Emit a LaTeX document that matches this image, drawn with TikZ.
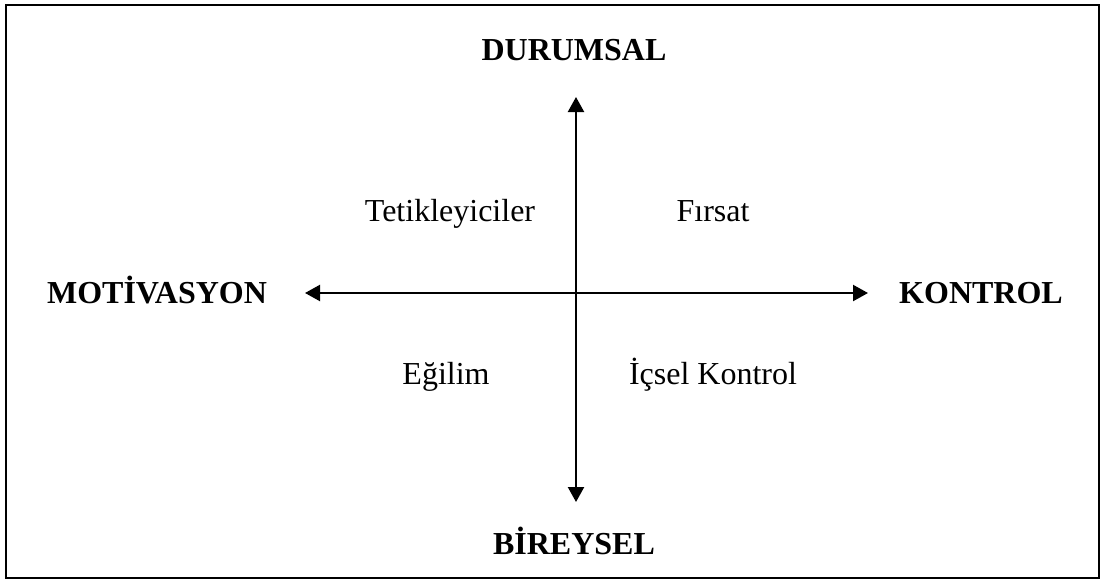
\documentclass[tikz,border=0pt]{standalone}
\usepackage{fontspec}
\setmainfont{Liberation Serif}
\usetikzlibrary{arrows.meta}
\begin{document}
\begin{tikzpicture}[x=1pt,y=-1pt,
	axis/.style={line width=2.2pt,{Triangle[length=15pt,width=16pt]}-{Triangle[length=15pt,width=16pt]}},
	pole/.style={anchor=base,font=\fontsize{32}{38}\selectfont\bfseries},
	field/.style={anchor=base,font=\fontsize{32}{38}\selectfont}]
		\useasboundingbox (0,0) rectangle (1105,581);
		\draw[line width=2pt] (6,5) rectangle (1099,578);
		
		\coordinate (axtop) at (576,97);
		\coordinate (axbot) at (576,502);
		\coordinate (axleft) at (305,293);
		\coordinate (axright) at (868,293);
		\draw[axis] (axbot) -- (axtop);
		\draw[axis] (axleft) -- (axright);
		
		\node[pole] (durumsal) at (574,60) {DURUMSAL};
		\node[pole] (bireysel) at (574,554) {BİREYSEL};
		\node[pole] (motivasyon) at (157,303) {MOTİVASYON};
		\node[pole] (kontrol) at (981,303) {KONTROL};
		
		\node[field] (tetik) at (450,221) {Tetikleyiciler};
		\node[field] (firsat) at (713,221) {Fırsat};
		\node[field] (egilim) at (446,384) {Eğilim};
		\node[field] (icsel) at (713,384) {İçsel Kontrol};
		
	\end{tikzpicture}
\end{document}
